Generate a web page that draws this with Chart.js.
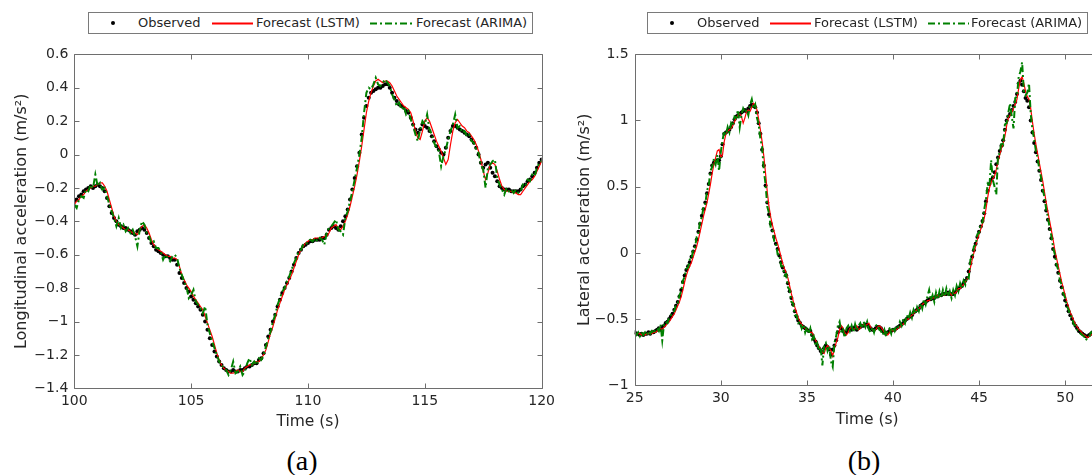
<!DOCTYPE html>
<html>
<head>
<meta charset="utf-8">
<script src="https://cdn.jsdelivr.net/npm/chart.js@4.4.1/dist/chart.umd.min.js"></script>
<style>
  body { margin: 0; width: 1092px; height: 475px; overflow: hidden; background: #fff; position: relative; font-family: "DejaVu Sans", sans-serif; color: #262626; }
  canvas { position: absolute; top: 0; }
  #chartA { left: 0; }
  #chartB { left: 560px; }
  .legend { position: absolute; top: 12px; height: 22px; border: 1px solid #7a7a7a; background: #fff; box-sizing: border-box; }
  .legend span, .legend svg { position: absolute; }
  .legend .lbl { top: 2px; font-size: 13px; line-height: 16px; white-space: nowrap; }
  .legend .dot { top: 8px; width: 4px; height: 4px; border-radius: 2px; background: #000; }
  .legend svg { top: 9px; }
  .panel { position: absolute; top: 445px; font-family: "Liberation Serif", serif; font-size: 28px; line-height: 32px; transform: translateX(-50%); color: #000; }
</style>
</head>
<body>
<canvas id="chartA" width="560" height="441"></canvas>
<canvas id="chartB" width="560" height="441"></canvas>

<div class="legend" style="left:88px; width:445px">
  <span class="dot" style="left:22px"></span>
  <span class="lbl" style="left:49px">Observed</span>
  <svg style="left:123px" width="41" height="3"><rect x="0" y="0.5" width="41" height="2" fill="#ff0000"/></svg>
  <span class="lbl" style="left:167px">Forecast (LSTM)</span>
  <svg style="left:281px" width="43" height="3"><line x1="0" y1="1.5" x2="43" y2="1.5" stroke="#008000" stroke-width="1.8" stroke-dasharray="7,3,2,3"/></svg>
  <span class="lbl" style="left:327px">Forecast (ARIMA)</span>
</div>
<div class="legend" style="left:647px; width:441px">
  <span class="dot" style="left:22px"></span>
  <span class="lbl" style="left:49px">Observed</span>
  <svg style="left:122px" width="41" height="3"><rect x="0" y="0.5" width="41" height="2" fill="#ff0000"/></svg>
  <span class="lbl" style="left:166px">Forecast (LSTM)</span>
  <svg style="left:280px" width="41" height="3"><line x1="0" y1="1.5" x2="41" y2="1.5" stroke="#008000" stroke-width="1.8" stroke-dasharray="7,3,2,3"/></svg>
  <span class="lbl" style="left:323px">Forecast (ARIMA)</span>
</div>

<div class="panel" style="left:302px">(a)</div>
<div class="panel" style="left:864px">(b)</div>

<script>
// sample spacing of every series (s)
const STEP = 0.1;

// (a) longitudinal acceleration, t = 100 ... 120 s
const startA = 100;
const ticksXA = [100, 105, 110, 115, 120];
const ticksYA = [-1.4, -1.2, -1, -0.8, -0.6, -0.4, -0.2, 0, 0.2, 0.4, 0.6];
const observedA = [
  -0.28,-0.27,-0.25,-0.24,-0.22,-0.21,-0.20,-0.19,-0.20,-0.19,
  -0.18,-0.19,-0.20,-0.22,-0.26,-0.31,-0.35,-0.38,-0.40,-0.42,
  -0.43,-0.44,-0.44,-0.45,-0.46,-0.47,-0.48,-0.46,-0.45,-0.44,
  -0.45,-0.47,-0.50,-0.53,-0.55,-0.57,-0.58,-0.59,-0.60,-0.61,
  -0.61,-0.62,-0.63,-0.63,-0.66,-0.71,-0.74,-0.77,-0.80,-0.82,
  -0.85,-0.87,-0.89,-0.91,-0.93,-0.96,-1.00,-1.05,-1.10,-1.14,
  -1.18,-1.21,-1.24,-1.26,-1.28,-1.29,-1.30,-1.30,-1.29,-1.30,
  -1.30,-1.29,-1.29,-1.28,-1.27,-1.27,-1.26,-1.25,-1.25,-1.23,
  -1.22,-1.19,-1.14,-1.09,-1.05,-1.00,-0.96,-0.91,-0.87,-0.83,
  -0.80,-0.77,-0.74,-0.70,-0.66,-0.62,-0.59,-0.57,-0.55,-0.54,
  -0.53,-0.52,-0.52,-0.51,-0.51,-0.51,-0.50,-0.50,-0.48,-0.45,
  -0.44,-0.43,-0.44,-0.45,-0.43,-0.40,-0.37,-0.33,-0.27,-0.21,
  -0.14,-0.07,0.01,0.12,0.22,0.29,0.34,0.37,0.38,0.39,
  0.40,0.40,0.41,0.42,0.42,0.40,0.37,0.34,0.32,0.30,
  0.29,0.28,0.26,0.25,0.22,0.18,0.15,0.13,0.15,0.18,
  0.17,0.16,0.14,0.11,0.08,0.05,0.03,0.01,0.00,0.04,
  0.10,0.14,0.17,0.17,0.16,0.15,0.14,0.13,0.12,0.11,
  0.09,0.07,0.04,0.00,-0.05,-0.08,-0.06,-0.05,-0.08,-0.11,
  -0.13,-0.16,-0.19,-0.20,-0.21,-0.21,-0.21,-0.22,-0.22,-0.22,
  -0.22,-0.21,-0.19,-0.18,-0.16,-0.15,-0.13,-0.11,-0.08,-0.05,
  -0.03
];
const lstmA = [
  -0.30,-0.28,-0.27,-0.25,-0.24,-0.22,-0.21,-0.20,-0.19,-0.19,
  -0.18,-0.17,-0.17,-0.19,-0.22,-0.27,-0.32,-0.37,-0.40,-0.42,
  -0.43,-0.44,-0.45,-0.45,-0.46,-0.47,-0.47,-0.48,-0.45,-0.43,
  -0.42,-0.44,-0.47,-0.51,-0.54,-0.56,-0.57,-0.58,-0.59,-0.60,
  -0.61,-0.61,-0.62,-0.62,-0.63,-0.67,-0.72,-0.75,-0.78,-0.80,
  -0.82,-0.85,-0.87,-0.89,-0.91,-0.93,-0.97,-1.01,-1.05,-1.09,
  -1.14,-1.19,-1.23,-1.26,-1.28,-1.29,-1.30,-1.31,-1.31,-1.30,
  -1.29,-1.30,-1.30,-1.28,-1.27,-1.26,-1.26,-1.25,-1.24,-1.24,
  -1.22,-1.20,-1.17,-1.12,-1.07,-1.03,-0.98,-0.93,-0.89,-0.85,
  -0.81,-0.78,-0.75,-0.72,-0.68,-0.64,-0.60,-0.57,-0.55,-0.53,
  -0.52,-0.51,-0.51,-0.50,-0.50,-0.50,-0.50,-0.49,-0.49,-0.47,
  -0.44,-0.43,-0.42,-0.44,-0.45,-0.43,-0.40,-0.36,-0.31,-0.25,
  -0.19,-0.12,-0.04,0.05,0.15,0.25,0.32,0.37,0.41,0.44,
  0.45,0.44,0.43,0.44,0.44,0.43,0.41,0.38,0.35,0.33,
  0.31,0.29,0.28,0.27,0.25,0.20,0.14,0.10,0.09,0.14,
  0.20,0.22,0.20,0.16,0.12,0.08,0.05,0.02,-0.02,-0.06,
  -0.03,0.06,0.14,0.19,0.21,0.19,0.17,0.16,0.14,0.13,
  0.11,0.09,0.06,0.02,-0.03,-0.10,-0.15,-0.11,-0.06,-0.05,
  -0.06,-0.10,-0.15,-0.19,-0.21,-0.22,-0.22,-0.22,-0.23,-0.23,
  -0.24,-0.24,-0.22,-0.20,-0.18,-0.16,-0.15,-0.13,-0.10,-0.07,
  -0.04
];
const arimaA = [
  -0.30,-0.32,-0.27,-0.25,-0.26,-0.21,-0.22,-0.18,-0.20,-0.12,
  -0.19,-0.17,-0.21,-0.20,-0.25,-0.30,-0.34,-0.38,-0.43,-0.38,
  -0.44,-0.42,-0.46,-0.44,-0.47,-0.45,-0.49,-0.55,-0.45,-0.40,
  -0.42,-0.47,-0.49,-0.53,-0.52,-0.56,-0.56,-0.58,-0.63,-0.60,
  -0.62,-0.64,-0.61,-0.60,-0.62,-0.68,-0.72,-0.76,-0.79,-0.86,
  -0.84,-0.81,-0.88,-0.90,-0.92,-0.95,-0.91,-1.02,-1.07,-1.12,
  -1.16,-1.20,-1.24,-1.26,-1.28,-1.29,-1.32,-1.29,-1.24,-1.31,
  -1.30,-1.27,-1.32,-1.30,-1.25,-1.22,-1.26,-1.24,-1.26,-1.22,
  -1.23,-1.20,-1.15,-1.10,-1.06,-1.00,-0.96,-0.90,-0.86,-0.82,
  -0.80,-0.76,-0.73,-0.69,-0.65,-0.62,-0.58,-0.57,-0.54,-0.54,
  -0.52,-0.51,-0.52,-0.50,-0.52,-0.50,-0.51,-0.54,-0.47,-0.44,
  -0.43,-0.41,-0.39,-0.45,-0.46,-0.48,-0.38,-0.34,-0.28,-0.22,
  -0.15,-0.08,0.00,0.10,0.25,0.37,0.40,0.39,0.42,0.46,
  0.42,0.41,0.43,0.45,0.43,0.41,0.36,0.33,0.29,0.31,
  0.27,0.29,0.24,0.26,0.21,0.17,0.12,0.08,0.15,0.20,
  0.18,0.24,0.15,0.12,0.07,0.04,0.02,-0.07,-0.01,0.03,
  0.09,0.14,0.18,0.24,0.16,0.17,0.13,0.14,0.11,0.12,
  0.08,0.07,0.03,0.01,-0.06,-0.09,-0.20,-0.08,-0.06,-0.04,
  -0.03,-0.14,-0.18,-0.21,-0.24,-0.20,-0.22,-0.21,-0.23,-0.21,
  -0.23,-0.22,-0.18,-0.19,-0.15,-0.16,-0.12,-0.13,-0.08,-0.05,
  -0.04
];

// (b) lateral acceleration, t = 25 ... 52 s
const startB = 25;
const ticksXB = [25, 30, 35, 40, 45, 50];
const ticksYB = [-1, -0.5, 0, 0.5, 1, 1.5];
const observedB = [
  -0.60,-0.61,-0.61,-0.62,-0.61,-0.62,-0.61,-0.61,-0.60,-0.61,
  -0.60,-0.60,-0.59,-0.58,-0.57,-0.58,-0.56,-0.55,-0.53,-0.52,
  -0.50,-0.48,-0.46,-0.43,-0.40,-0.37,-0.33,-0.28,-0.22,-0.17,
  -0.13,-0.10,-0.07,-0.03,0.01,0.05,0.10,0.16,0.22,0.28,
  0.33,0.38,0.45,0.52,0.60,0.66,0.68,0.69,0.70,0.70,
  0.73,0.82,0.90,0.91,0.92,0.93,0.95,0.98,1.01,1.03,
  1.04,1.05,1.06,1.07,1.08,1.07,1.09,1.11,1.12,1.11,
  1.10,1.06,0.98,0.90,0.78,0.66,0.51,0.38,0.29,0.22,
  0.17,0.12,0.07,0.03,-0.02,-0.07,-0.11,-0.14,-0.17,-0.23,
  -0.29,-0.34,-0.39,-0.44,-0.48,-0.51,-0.53,-0.55,-0.56,-0.57,
  -0.58,-0.59,-0.59,-0.62,-0.65,-0.67,-0.70,-0.72,-0.74,-0.75,
  -0.72,-0.70,-0.71,-0.73,-0.77,-0.73,-0.70,-0.66,-0.60,-0.56,
  -0.57,-0.59,-0.61,-0.60,-0.58,-0.57,-0.58,-0.57,-0.56,-0.58,
  -0.57,-0.56,-0.55,-0.55,-0.54,-0.54,-0.56,-0.57,-0.58,-0.58,
  -0.57,-0.56,-0.56,-0.57,-0.59,-0.60,-0.61,-0.60,-0.59,-0.59,
  -0.58,-0.58,-0.57,-0.56,-0.55,-0.54,-0.53,-0.51,-0.50,-0.49,
  -0.48,-0.47,-0.45,-0.44,-0.43,-0.42,-0.40,-0.39,-0.38,-0.37,
  -0.36,-0.35,-0.35,-0.34,-0.34,-0.33,-0.33,-0.32,-0.32,-0.31,
  -0.31,-0.31,-0.30,-0.31,-0.31,-0.31,-0.30,-0.28,-0.27,-0.26,
  -0.25,-0.23,-0.21,-0.19,-0.14,-0.08,-0.03,0.02,0.07,0.12,
  0.16,0.20,0.24,0.30,0.39,0.47,0.52,0.55,0.57,0.61,
  0.67,0.72,0.77,0.81,0.85,0.93,1.00,1.03,1.05,1.08,
  1.11,1.14,1.20,1.28,1.30,1.27,1.22,1.17,1.15,1.10,
  1.00,0.91,0.83,0.76,0.69,0.62,0.55,0.47,0.39,0.32,
  0.25,0.18,0.11,0.03,-0.03,-0.09,-0.15,-0.21,-0.26,-0.31,
  -0.36,-0.40,-0.44,-0.47,-0.50,-0.53,-0.55,-0.57,-0.59,-0.60,
  -0.61,-0.62,-0.63,-0.63,-0.62,-0.61,-0.60,-0.58,-0.57,-0.56,
  -0.55
];
const lstmB = [
  -0.61,-0.61,-0.61,-0.61,-0.62,-0.61,-0.62,-0.61,-0.61,-0.60,
  -0.61,-0.60,-0.60,-0.59,-0.58,-0.57,-0.58,-0.56,-0.55,-0.53,
  -0.52,-0.50,-0.48,-0.46,-0.43,-0.40,-0.37,-0.33,-0.28,-0.22,
  -0.17,-0.13,-0.10,-0.07,-0.03,0.01,0.05,0.10,0.16,0.22,
  0.28,0.33,0.38,0.45,0.52,0.60,0.67,0.72,0.77,0.78,
  0.72,0.74,0.84,0.90,0.92,0.93,0.94,0.96,0.99,1.02,
  1.04,1.05,1.03,0.98,1.02,1.07,1.08,1.07,1.10,1.13,
  1.12,1.08,1.01,0.93,0.84,0.73,0.60,0.46,0.35,0.27,
  0.21,0.16,0.11,0.07,0.02,-0.03,-0.08,-0.12,-0.15,-0.19,
  -0.25,-0.31,-0.36,-0.41,-0.45,-0.49,-0.52,-0.54,-0.56,-0.57,
  -0.58,-0.59,-0.60,-0.60,-0.63,-0.66,-0.68,-0.71,-0.73,-0.75,
  -0.76,-0.72,-0.70,-0.72,-0.74,-0.78,-0.72,-0.68,-0.64,-0.58,
  -0.55,-0.57,-0.60,-0.62,-0.60,-0.57,-0.56,-0.58,-0.57,-0.55,
  -0.58,-0.57,-0.55,-0.54,-0.55,-0.54,-0.53,-0.56,-0.58,-0.59,
  -0.58,-0.56,-0.55,-0.56,-0.58,-0.60,-0.61,-0.62,-0.60,-0.58,
  -0.59,-0.58,-0.58,-0.57,-0.56,-0.54,-0.54,-0.52,-0.50,-0.50,
  -0.48,-0.47,-0.46,-0.44,-0.43,-0.42,-0.41,-0.39,-0.38,-0.38,
  -0.36,-0.36,-0.35,-0.34,-0.34,-0.33,-0.32,-0.33,-0.32,-0.31,
  -0.32,-0.30,-0.31,-0.30,-0.32,-0.30,-0.31,-0.29,-0.27,-0.27,
  -0.25,-0.24,-0.22,-0.20,-0.17,-0.11,-0.05,0.00,0.05,0.10,
  0.14,0.18,0.22,0.26,0.33,0.42,0.49,0.53,0.56,0.58,
  0.63,0.69,0.74,0.79,0.83,0.88,0.96,1.02,1.04,1.06,
  1.09,1.12,1.16,1.24,1.31,1.33,1.28,1.22,1.18,1.16,
  1.09,0.99,0.90,0.82,0.75,0.68,0.61,0.54,0.46,0.38,
  0.31,0.24,0.17,0.10,0.02,-0.04,-0.10,-0.16,-0.22,-0.27,
  -0.32,-0.37,-0.41,-0.45,-0.48,-0.51,-0.54,-0.56,-0.58,-0.59,
  -0.61,-0.62,-0.63,-0.64,-0.63,-0.62,-0.61,-0.59,-0.58,-0.57,
  -0.56
];
const arimaB = [
  -0.60,-0.62,-0.60,-0.63,-0.60,-0.62,-0.60,-0.62,-0.59,-0.61,
  -0.59,-0.61,-0.58,-0.57,-0.59,-0.54,-0.66,-0.54,-0.52,-0.53,
  -0.49,-0.47,-0.45,-0.44,-0.39,-0.38,-0.32,-0.29,-0.21,-0.18,
  -0.12,-0.11,-0.05,-0.05,0.03,0.04,0.12,0.15,0.24,0.27,
  0.35,0.37,0.47,0.51,0.62,0.65,0.71,0.67,0.74,0.62,
  0.76,0.85,0.92,0.89,0.95,0.91,0.98,0.96,1.03,1.02,
  1.08,0.95,1.04,1.09,1.06,1.08,1.04,1.12,1.16,1.09,
  1.12,1.02,0.97,0.86,0.80,0.62,0.52,0.35,0.30,0.19,
  0.18,0.09,0.08,-0.01,-0.01,-0.10,-0.10,-0.17,-0.16,-0.26,
  -0.28,-0.37,-0.38,-0.47,-0.47,-0.53,-0.52,-0.57,-0.54,-0.60,
  -0.56,-0.61,-0.57,-0.65,-0.63,-0.70,-0.68,-0.74,-0.71,-0.85,
  -0.70,-0.68,-0.74,-0.70,-0.82,-0.86,-0.68,-0.63,-0.55,-0.52,
  -0.60,-0.58,-0.64,-0.57,-0.55,-0.59,-0.55,-0.60,-0.54,-0.59,
  -0.55,-0.53,-0.57,-0.52,-0.56,-0.52,-0.58,-0.60,-0.56,-0.60,
  -0.55,-0.54,-0.58,-0.59,-0.62,-0.58,-0.63,-0.58,-0.57,-0.61,
  -0.56,-0.59,-0.55,-0.56,-0.52,-0.55,-0.50,-0.53,-0.47,-0.50,
  -0.45,-0.49,-0.43,-0.46,-0.41,-0.44,-0.38,-0.42,-0.35,-0.39,
  -0.33,-0.28,-0.36,-0.32,-0.37,-0.30,-0.35,-0.29,-0.34,-0.28,
  -0.33,-0.27,-0.33,-0.29,-0.34,-0.28,-0.32,-0.25,-0.29,-0.23,
  -0.27,-0.21,-0.24,-0.18,-0.19,-0.05,-0.04,0.05,0.06,0.14,
  0.15,0.22,0.23,0.33,0.40,0.52,0.50,0.70,0.55,0.50,
  0.44,0.74,0.75,0.84,0.82,0.97,0.98,1.06,1.13,1.03,
  0.94,1.17,1.18,1.33,1.37,1.44,1.22,1.19,1.21,1.28,
  1.05,0.93,0.86,0.77,0.72,0.63,0.57,0.48,0.42,0.33,
  0.27,0.19,0.13,0.04,-0.01,-0.09,-0.13,-0.21,-0.24,-0.31,
  -0.34,-0.40,-0.43,-0.47,-0.49,-0.54,-0.55,-0.58,-0.60,-0.61,
  -0.62,-0.63,-0.66,-0.64,-0.63,-0.60,-0.60,-0.57,-0.58,-0.55,
  -0.55
];

const AXIS_COLOR = '#6e6e6e';
const TEXT_COLOR = '#262626';
const TICK_LEN = 5;

Chart.defaults.font.family = '"DejaVu Sans", sans-serif';
Chart.defaults.color = TEXT_COLOR;

// box round the plot area with inward tick marks on all four sides
const boxAxes = {
  id: 'boxAxes',
  afterDraw(chart) {
    const { ctx, chartArea: a, scales: { x, y } } = chart;
    const l = Math.round(a.left) + 0.5, r = Math.round(a.right) + 0.5;
    const t = Math.round(a.top) + 0.5, b = Math.round(a.bottom) + 0.5;
    ctx.save();
    ctx.strokeStyle = AXIS_COLOR;
    ctx.lineWidth = 1;
    ctx.beginPath();
    ctx.rect(l, t, r - l, b - t);
    x.ticks.forEach(tk => {
      const px = Math.round(x.getPixelForValue(tk.value)) + 0.5;
      ctx.moveTo(px, b); ctx.lineTo(px, b - TICK_LEN);
      ctx.moveTo(px, t); ctx.lineTo(px, t + TICK_LEN);
    });
    y.ticks.forEach(tk => {
      const py = Math.round(y.getPixelForValue(tk.value)) + 0.5;
      ctx.moveTo(l, py); ctx.lineTo(l + TICK_LEN, py);
      ctx.moveTo(r, py); ctx.lineTo(r - TICK_LEN, py);
    });
    ctx.stroke();
    ctx.restore();
  }
};

const fmtTick = v => String(Math.round(v * 10) / 10).replace('-', '\u2212');

function buildChart(id, c) {
  const toPts = vals => vals.map((v, i) => ({ x: +(c.start + i * STEP).toFixed(1), y: v }));
  return new Chart(document.getElementById(id).getContext('2d'), {
    type: 'line',
    data: {
      datasets: [
        { label: 'Forecast (ARIMA)', data: toPts(c.arima), borderColor: '#008000', borderWidth: 2,
          borderDash: [7, 3, 2, 3], pointRadius: 0, tension: 0, order: 1 },
        { label: 'Forecast (LSTM)', data: toPts(c.lstm), borderColor: '#ff0000', borderWidth: 1.2,
          pointRadius: 0, tension: 0, order: 2 },
        { label: 'Observed', data: toPts(c.obs), showLine: false, pointRadius: 2,
          pointBackgroundColor: '#000', pointBorderWidth: 0, order: 3 }
      ]
    },
    options: {
      responsive: false,
      animation: false,
      devicePixelRatio: 1,
      layout: { padding: { left: 0, right: c.padRight, top: 54.3, bottom: c.padBottom } },
      plugins: { legend: { display: false }, tooltip: { enabled: false } },
      scales: {
        x: {
          type: 'linear', min: c.xMin, max: c.xMax,
          grid: { display: false, drawTicks: false }, border: { display: false },
          afterBuildTicks: s => { s.ticks = c.xTicks.map(v => ({ value: v })); },
          afterFit: s => { s.height = 52; },
          ticks: { font: { size: 14 }, padding: 5, maxRotation: 0, autoSkip: false, callback: fmtTick },
          title: { display: true, text: 'Time (s)', font: { size: 15.5 }, padding: { top: 0, bottom: c.xTitlePad } }
        },
        y: {
          type: 'linear', min: c.yMin, max: c.yMax,
          grid: { display: false, drawTicks: false }, border: { display: false },
          afterBuildTicks: s => { s.ticks = c.yTicks.map(v => ({ value: v })); },
          afterFit: s => { s.width = c.yWidth; },
          ticks: { font: { size: 14 }, padding: 6, autoSkip: false, callback: fmtTick },
          title: { display: true, text: c.yTitle, font: { size: 16 }, padding: { top: c.yTitlePad, bottom: 0 } }
        }
      }
    },
    plugins: [boxAxes]
  });
}

buildChart('chartA', {
  start: startA, obs: observedA, lstm: lstmA, arima: arimaA,
  xMin: 100, xMax: 120, xTicks: ticksXA,
  yMin: -1.4, yMax: 0.6, yTicks: ticksYA,
  yTitle: 'Longitudinal acceleration (m/s\u00b2)',
  yWidth: 74.3, padRight: 16.7, padBottom: 0.7, xTitlePad: 9, yTitlePad: 12.5
});

buildChart('chartB', {
  start: startB, obs: observedB, lstm: lstmB, arima: arimaB,
  xMin: 25, xMax: 52, xTicks: ticksXB,
  yMin: -1, yMax: 1.5, yTicks: ticksYB,
  yTitle: 'Lateral acceleration (m/s\u00b2)',
  yWidth: 74.7, padRight: 20.4, padBottom: 3.7, xTitlePad: 8, yTitlePad: 15.5
});
</script>
</body>
</html>
